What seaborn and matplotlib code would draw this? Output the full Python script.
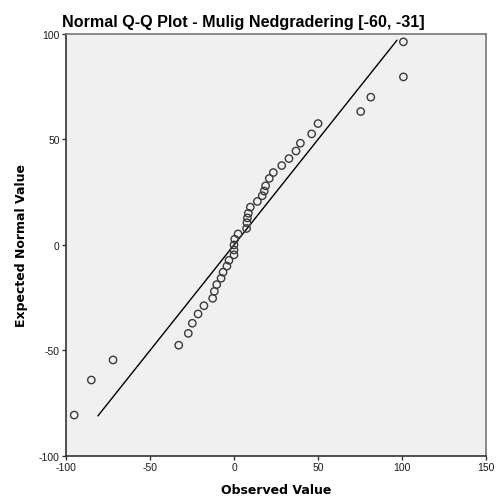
import matplotlib
matplotlib.use("Agg")
import matplotlib.pyplot as plt
import seaborn as sns
import pandas as pd

observed = [-95.1, -84.9, -72.0, -32.9, -27.2, -24.8, -21.4, -17.9, -12.7, -11.7,
            -10.3, -7.7, -6.5, -4.2, -3.0, 0.0, 0.0, 0.0, 0.4, 2.4,
            7.5, 7.7, 8.0, 8.5, 9.7, 13.9, 16.8, 18.0, 18.8, 21.0,
            23.4, 28.4, 32.7, 36.9, 39.5, 46.2, 50.0, 75.4, 81.4, 100.8, 100.8]
expected = [-80.6, -64.0, -54.5, -47.5, -41.9, -37.1, -32.7, -28.8, -25.3, -22.0,
            -18.8, -15.8, -12.9, -10.0, -7.3, -4.7, -2.4, 0.0, 2.7, 5.2,
            7.8, 10.5, 12.8, 15.0, 17.9, 20.6, 23.3, 25.5, 28.0, 31.5,
            34.3, 37.6, 40.9, 44.5, 48.2, 52.6, 57.5, 63.2, 70.0, 79.6, 96.2]
line_x = [-81, 97]
line_y = [-81, 97]
x_ticks = [-100, -50, 0, 50, 100, 150]
y_ticks = [-100, -50, 0, 50, 100]

df = pd.DataFrame({"Observed": observed, "Expected": expected})
ref = pd.DataFrame({"x": line_x, "y": line_y})

sns.set_style("ticks")
plt.rcParams["axes.unicode_minus"] = False
plt.rcParams["text.color"] = "black"
plt.rcParams["axes.labelcolor"] = "black"

fig = plt.figure(figsize=(4.96, 5.02), dpi=100)
ax = fig.add_axes([0.133, 0.0896, 0.847, 0.841])
ax.set_facecolor("#f0f0f0")

sns.lineplot(data=ref, x="x", y="y", ax=ax, color="black", linewidth=1.0)
sns.scatterplot(data=df, x="Observed", y="Expected", ax=ax, marker="o", s=28,
                facecolors="none", edgecolor="#3a3a3a", linewidth=1.0, zorder=3)

ax.set_xlim(-100, 150)
ax.set_ylim(-100, 100)
ax.set_xticks(x_ticks)
ax.set_yticks(y_ticks)
ax.tick_params(axis="both", direction="out", length=3, width=1, color="#333333",
               labelcolor="#1a1a1a", labelsize=7.5, pad=1.5)
for lab in ax.get_xticklabels() + ax.get_yticklabels():
    lab.set_fontfamily("Liberation Sans")
for side in ["left", "bottom"]:
    ax.spines[side].set_color("#333333")
    ax.spines[side].set_linewidth(1.2)
for side in ["top", "right"]:
    ax.spines[side].set_visible(True)
    ax.spines[side].set_color("#777777")
    ax.spines[side].set_linewidth(1.2)

ax.set_xlabel("Observed Value", fontsize=9, fontweight="bold", family="DejaVu Sans", labelpad=8)
ax.set_ylabel("Expected Normal Value", fontsize=9, fontweight="bold", family="DejaVu Sans", labelpad=8)

fig.text(0.49, 0.956, "Normal Q-Q Plot - Mulig Nedgradering [-60, -31]", ha="center", va="center",
         fontsize=11.6, fontweight="bold", family="Liberation Sans", color="black")

fig.savefig("out.png", dpi=100)
